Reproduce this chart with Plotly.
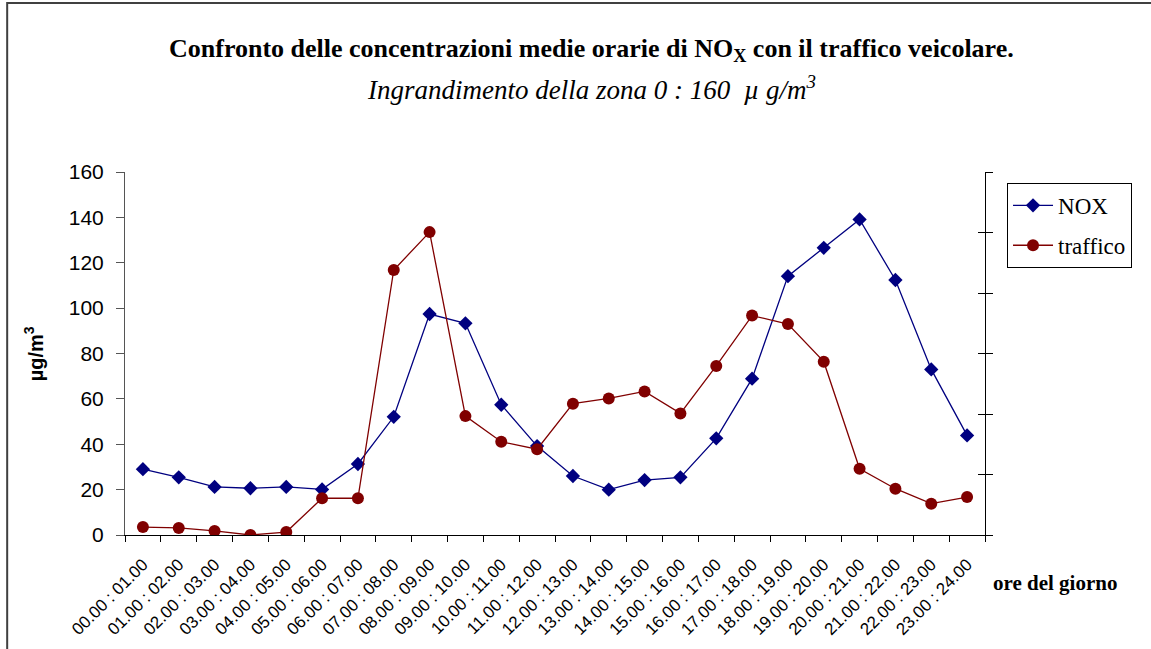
import plotly.graph_objects as go

# fasce orarie
hours = [f"{h:02d}.00 : {h + 1:02d}.00" for h in range(24)]

# concentrazioni medie orarie NOX (µg/m3)
nox = [29.0, 25.4, 21.2, 20.6, 21.2, 20.1, 31.3, 52.1, 97.4, 93.3, 57.4, 39.2,
       26.0, 20.0, 24.2, 25.4, 42.6, 68.9, 114.1, 126.6, 139.1, 112.4, 73.0, 43.9]

# traffico veicolare (scala relativa)
traffico = [3.5, 3.1, 1.8, 0.0, 1.3, 16.2, 16.2, 116.8, 133.5, 52.4, 41.1, 37.8,
            57.9, 60.2, 63.3, 53.6, 74.5, 96.7, 93.0, 76.4, 29.2, 20.4, 13.8, 16.7]

y_ticks = [0, 20, 40, 60, 80, 100, 120, 140, 160]
right_ticks = [0, 1, 2, 3, 4, 5, 6]

SERIF = "Liberation Serif, Times New Roman, serif"
SANS = "Liberation Sans, Arial, sans-serif"

fig = go.Figure()

fig.add_trace(go.Scatter(
    x=hours, y=nox, name="NOX", mode="lines+markers", legendgroup="a",
    line=dict(color="#000080", width=1.3),
    marker=dict(symbol="diamond", size=11, color="#000080"),
))
fig.add_trace(go.Scatter(
    x=hours, y=traffico, name="traffico", mode="lines+markers", legendgroup="b",
    line=dict(color="#800000", width=1.3),
    marker=dict(symbol="circle", size=12, color="#800000"),
))
# asse destro (solo tacche)
fig.add_trace(go.Scatter(x=[hours[0]], y=[None], yaxis="y2", showlegend=False, hoverinfo="skip"))
fig.add_trace(go.Scatter(x=[hours[0]], y=[None], yaxis="y3", showlegend=False, hoverinfo="skip"))

fig.update_layout(
    width=1151, height=649,
    margin=dict(l=125, r=166, t=172, b=114),
    paper_bgcolor="white", plot_bgcolor="white",
    showlegend=True,
    legend=dict(
        x=1.0256, y=0.97, xanchor="left", yanchor="top",
        bordercolor="black", borderwidth=1, bgcolor="white",
        font=dict(family=SERIF, size=23, color="black"),
        tracegroupgap=7, itemwidth=40,
    ),
    xaxis=dict(
        type="category", range=[-0.5, 23.5], automargin=False,
        showline=True, linecolor="black", linewidth=1,
        ticks="outside", ticklen=6, tickcolor="black", tickson="boundaries",
        tickangle=-45, showgrid=False, zeroline=False, ticklabelstandoff=12,
        tickfont=dict(family=SANS, size=17, color="black"),
    ),
    yaxis=dict(
        range=[0, 160], tickvals=y_ticks, automargin=False,
        showline=True, linecolor="#555555", linewidth=1,
        ticks="outside", ticklen=8, tickcolor="#555555",
        showgrid=False, zeroline=False, ticklabelstandoff=8,
        tickfont=dict(family=SANS, size=21, color="black"),
    ),
    yaxis2=dict(
        overlaying="y", side="right", range=[0, 6], tickvals=right_ticks,
        showline=True, linecolor="black", linewidth=1,
        ticks="outside", ticklen=7, tickcolor="black",
        showticklabels=False, showgrid=False, zeroline=False,
    ),
    yaxis3=dict(
        overlaying="y", side="right", range=[0, 6], tickvals=right_ticks,
        showline=False, ticks="inside", ticklen=7, tickcolor="black",
        showticklabels=False, showgrid=False, zeroline=False,
    ),
)

fig.add_annotation(
    text="<b>Confronto delle concentrazioni medie orarie di NO<sub>X</sub> con il traffico veicolare.</b>",
    xref="paper", yref="paper", x=0.543, y=1.336, showarrow=False,
    font=dict(family=SERIF, size=26, color="black"), xanchor="center", yanchor="middle",
)
fig.add_annotation(
    text="<i>Ingrandimento della zona 0 : 160  µ g/m<sup>3</sup></i>",
    xref="paper", yref="paper", x=0.543, y=1.231, showarrow=False,
    font=dict(family=SERIF, size=27, color="black"), xanchor="center", yanchor="middle",
)
fig.add_annotation(
    text="<b>ore del giorno</b>",
    xref="paper", yref="paper", x=1.081, y=-0.132, showarrow=False,
    font=dict(family=SERIF, size=21, color="black"), xanchor="center", yanchor="middle",
)
fig.add_annotation(
    text="<b>µg/m<sup>3</sup></b>",
    xref="paper", yref="paper", x=-0.106, y=0.50, showarrow=False, textangle=-90,
    font=dict(family=SANS, size=20, color="black"), xanchor="center", yanchor="middle",
)

# cornice del grafico
fig.add_shape(
    type="rect", xref="paper", yref="paper",
    x0=-0.137, y0=-0.5, x1=1.3, y1=1.4656,
    line=dict(color="#404040", width=2), layer="below",
)

fig.write_html("out.html", config={"displayModeBar": False},
               post_script="document.body.style.margin='0';")
